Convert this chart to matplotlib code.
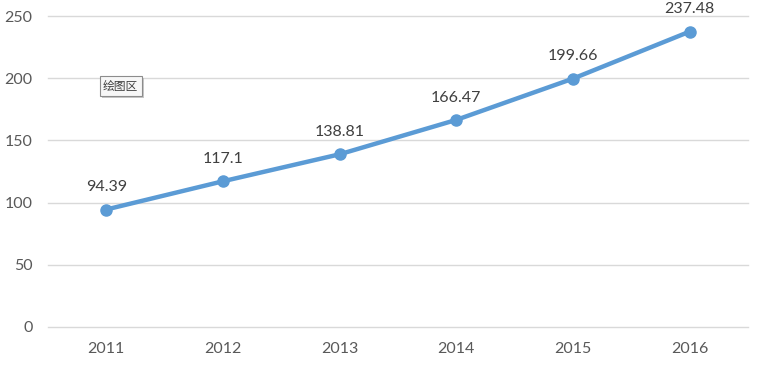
import matplotlib
matplotlib.use("Agg")
import matplotlib.pyplot as plt
import matplotlib.patheffects as pe

years = ["2011", "2012", "2013", "2014", "2015", "2016"]
values = [94.39, 117.1, 138.81, 166.47, 199.66, 237.48]
labels = ["94.39", "117.1", "138.81", "166.47", "199.66", "237.48"]
yticks = [0, 50, 100, 150, 200, 250]

plt.rcParams['font.family'] = ['Lato', 'Noto Sans CJK SC', 'DejaVu Sans']

fig = plt.figure(figsize=(7.6, 3.66), dpi=100)
ax = fig.add_axes([0.063, 0.107, 0.921, 0.849])

x = list(range(len(years)))
ax.plot(x, values, color="#5B9BD5", linewidth=3.2, marker="o", markersize=8,
        markerfacecolor="#5B9BD5", markeredgecolor="#5B9BD5", zorder=3)

for xi, v, lab in zip(x, values, labels):
    ax.annotate(lab, (xi, v), xytext=(0, 11), textcoords="offset points",
                ha="center", va="bottom", fontsize=11.5, color="#404040")

ax.set_xlim(-0.5, len(years) - 0.5)
ax.set_ylim(0, 250)
ax.set_yticks(yticks)
ax.set_xticks(x)
ax.set_xticklabels(years)
ax.grid(axis="y", color="#D9D9D9", linewidth=1)
for gl in ax.get_ygridlines():
    gl.set_clip_on(False)
ax.set_axisbelow(True)
for s in ax.spines.values():
    s.set_visible(False)
ax.tick_params(axis="both", length=0, labelsize=11.5, colors="#595959")
ax.tick_params(axis="x", pad=11)
ax.tick_params(axis="y", pad=11)

ax.text(0.104, 0.775, "绘图区", transform=ax.transAxes, fontsize=8.5,
        family=['Noto Sans CJK SC', 'DejaVu Sans'], color="#404040",
        ha="center", va="center",
        bbox=dict(boxstyle="square,pad=0.3", facecolor="#F7F7F7",
                  edgecolor="#8C8C8C", linewidth=0.8,
                  path_effects=[pe.withSimplePatchShadow(offset=(1.5, -1.5),
                                                          shadow_rgbFace="#BBBBBB", alpha=0.8)]))

fig.savefig("out.png", dpi=100)
